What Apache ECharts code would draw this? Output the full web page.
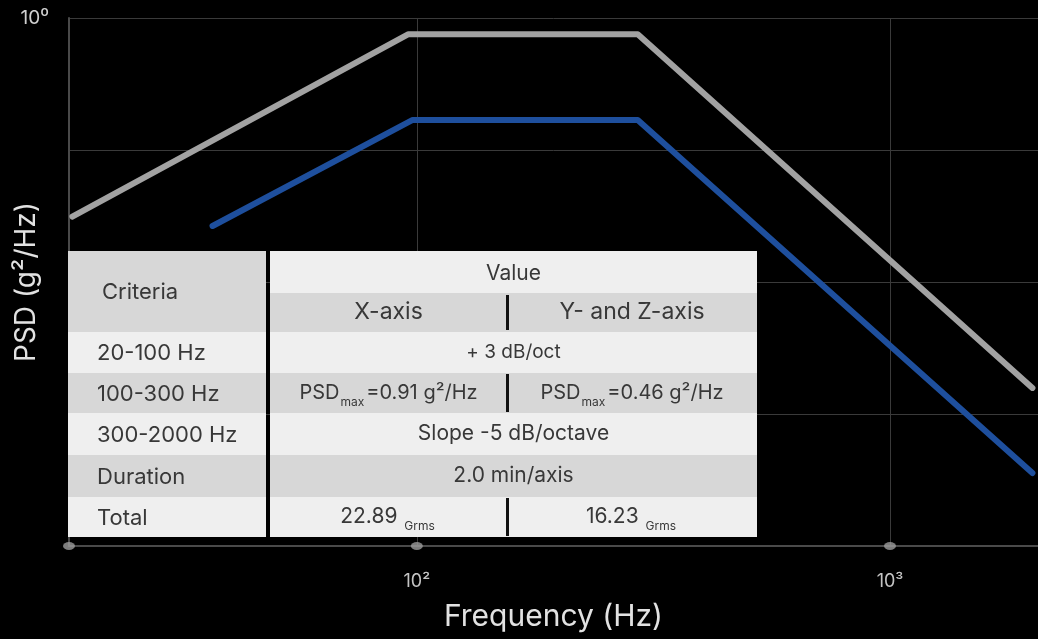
<!DOCTYPE html>
<html>
<head>
<meta charset="utf-8">
<script src="https://cdn.jsdelivr.net/npm/echarts@6/dist/echarts.min.js"></script>
<style>
  html, body { margin: 0; background: #000; }
  #chart { width: 1038px; height: 639px; }
</style>
</head>
<body>
<div id="chart"></div>
<script>
// curves
const freqX = [18.7, 96, 293, 2000];
const psdX = [0.177, 0.868, 0.868, 0.0397];
const freqYZ = [37, 98, 293, 2000];
const psdYZ = [0.163, 0.411, 0.411, 0.0189];

// axis ranges
const freqMin = 18.4, freqMax = 2055;
const psdMin = 0.01, psdMax = 1;
const tickFreqs = [18.4, 100, 1000];

// table text
const criteria = ['20-100 Hz', '100-300 Hz', '300-2000 Hz', 'Duration', 'Total'];
const colHeads = ['X-axis', 'Y- and Z-axis'];
// null in the second column means the first one spans both
const valX = ['+ 3 dB/oct', 'PSD{s|max}=0.91 g²/Hz', 'Slope -5 dB/octave', '2.0 min/axis', '22.89 {s|Grms}'];
const valYZ = [null, 'PSD{s|max}=0.46 g²/Hz', null, null, '16.23 {s|Grms}'];

const sup = { '-2': '⁻²', '-1': '⁻¹', '0': '⁰', '1': '¹', '2': '²', '3': '³' };
function decadeLabel(v) {
  const l = Math.log10(v);
  const e = Math.round(l);
  if (Math.abs(l - e) > 1e-6) return '';
  return '10' + sup[e];
}

const FONT = 'Inter, "Noto Sans", sans-serif';
const light = '#efefef', dark = '#d7d7d7', ink = '#383838';

function buildTable() {
  const L = 68, M = 270, R = 757, D = 507;
  const rowY = [332, 373, 413, 455, 497, 537];
  const rowSize = [19, 20, 21, 21, 21];
  const els = [];
  const rect = (x, y, w, h, fill) => els.push({ type: 'rect', shape: { x, y, width: w, height: h }, style: { fill }, z: 100 });
  const text = (x, y, t, size, align, rich) => els.push({
    type: 'text', x, y, z: 101,
    style: { text: t, fill: ink, fontSize: size, fontFamily: FONT, textAlign: align, textVerticalAlign: 'middle', rich: rich }
  });
  // subscript: pushed down with top padding
  const rich = {
    s: { fontSize: 12, fill: ink, fontFamily: FONT, padding: [19, 2, 0, 1], verticalAlign: 'top' }
  };

  // header
  rect(L, 251, M - 4 - L, 81, dark);
  rect(M, 251, R - M, 42, light);
  rect(M, 293, R - M, 39, dark);
  rect(D - 1, 295, 3, 35, '#111');
  text(102, 292, 'Criteria', 22, 'left');
  text((M + R) / 2, 274, 'Value', 21, 'center');
  text((M + D) / 2, 312, colHeads[0], 23, 'center');
  text((D + R) / 2, 312, colHeads[1], 23, 'center');

  criteria.forEach((c, i) => {
    const y0 = rowY[i], h = rowY[i + 1] - y0;
    const fill = i % 2 === 0 ? light : dark;
    rect(L, y0, M - 4 - L, h, fill);
    rect(M, y0, R - M, h, fill);
    text(97, y0 + h / 2 + 1, c, 22, 'left');
    if (valYZ[i] !== null) {
      rect(D - 1, y0 + 1, 3, h - 2, '#111');
      text((M + D) / 2, y0 + h / 2, valX[i], rowSize[i], 'center', rich);
      text((D + R) / 2, y0 + h / 2, valYZ[i], rowSize[i], 'center', rich);
    } else {
      text((M + R) / 2, y0 + h / 2, valX[i], rowSize[i], 'center', rich);
    }
  });
  return els;
}

const chart = echarts.init(document.getElementById('chart'));
chart.setOption({
  backgroundColor: '#000',
  animation: false,
  grid: { left: 69, right: 0, top: 18, bottom: 93, containLabel: false, outerBoundsMode: 'none' },
  xAxis: {
    type: 'log',
    logBase: 10,
    min: freqMin,
    max: freqMax,
    axisLine: { show: true, lineStyle: { color: '#4a4a4a', width: 2 } },
    axisTick: { show: false },
    axisLabel: { color: '#c4c4c4', fontSize: 18, fontFamily: FONT, margin: 27, formatter: decadeLabel },
    splitLine: { show: true, lineStyle: { color: '#3a3a3a', width: 1 } },
    name: 'Frequency (Hz)',
    nameLocation: 'middle',
    nameGap: 56,
    nameMoveOverlap: false,
    nameTextStyle: { color: '#e2e2e2', fontSize: 30, fontFamily: FONT }
  },
  yAxis: {
    type: 'log',
    logBase: 10,
    min: psdMin,
    max: psdMax,
    interval: 0.5,
    axisLine: { show: true, lineStyle: { color: '#4a4a4a', width: 2 } },
    axisTick: { show: false },
    axisLabel: { color: '#d0d0d0', fontSize: 19, fontFamily: FONT, margin: 20, formatter: v => (Math.abs(Math.log10(v)) < 1e-6 ? decadeLabel(v) : '') },
    splitLine: { show: true, lineStyle: { color: '#3a3a3a', width: 1 } },
    name: 'PSD (g²/Hz)',
    nameLocation: 'middle',
    nameGap: 28,
    nameMoveOverlap: false,
    nameTextStyle: { color: '#e2e2e2', fontSize: 28, fontFamily: FONT }
  },
  series: [
    {
      name: 'X-axis',
      type: 'line',
      data: freqX.map((f, i) => [f, psdX[i]]),
      symbol: 'none',
      silent: true,
      lineStyle: { color: '#a2a2a2', width: 6, cap: 'round', join: 'round' }
    },
    {
      name: 'Y- and Z-axis',
      type: 'line',
      data: freqYZ.map((f, i) => [f, psdYZ[i]]),
      symbol: 'none',
      silent: true,
      lineStyle: { color: '#1e4f9d', width: 6, cap: 'round', join: 'round' }
    },
    {
      type: 'scatter',
      data: tickFreqs.map(f => [f, psdMin]),
      symbol: 'circle',
      symbolSize: [12, 8],
      clip: false,
      silent: true,
      z: 5,
      itemStyle: { color: '#9c9c9c' }
    }
  ],
  graphic: { elements: buildTable() }
});
</script>
</body>
</html>
